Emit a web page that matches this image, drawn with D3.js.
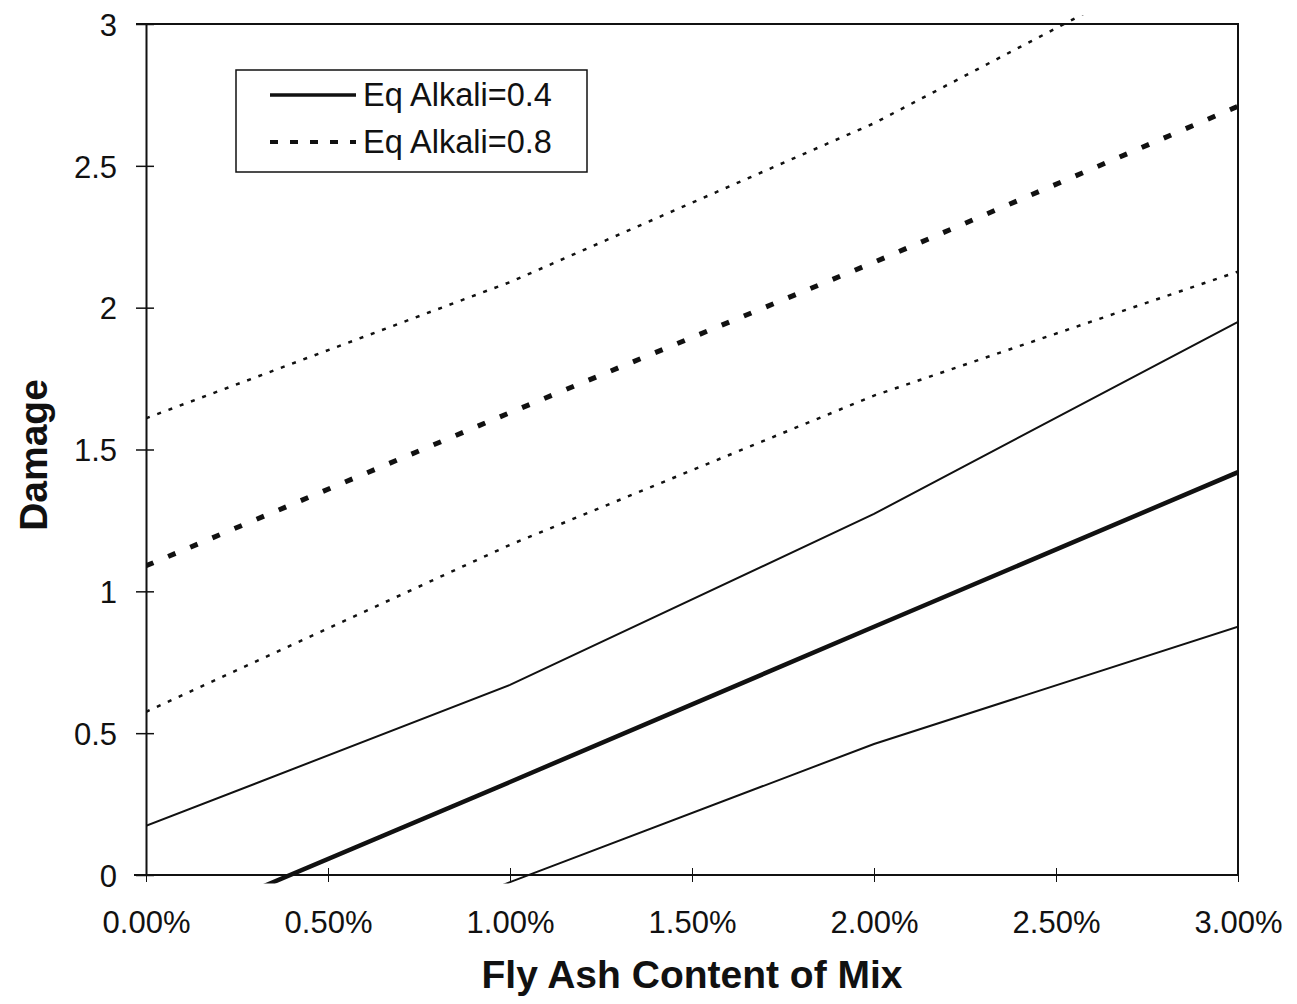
<!DOCTYPE html>
<html>
<head>
<meta charset="utf-8">
<script src="https://cdn.jsdelivr.net/npm/d3@7"></script>
<style>
  html, body { margin: 0; padding: 0; background: #fff; }
  svg { display: block; }
  text { font-family: "Liberation Sans", Arial, sans-serif; fill: #111; }
</style>
</head>
<body>
<svg id="chart" width="1297" height="1004"></svg>
<script>
// Fly ash content (%) at which each curve is evaluated
const flyAsh = [0, 1, 2, 3];

// Eq Alkali = 0.4 : mean curve and its bounds
const alkali04Mean  = [-0.215, 0.328, 0.875, 1.42];
const alkali04Upper = [0.173, 0.67, 1.273, 1.95];
const alkali04Lower = [-0.55, -0.025, 0.462, 0.875];

// Eq Alkali = 0.8 : mean curve and its bounds
const alkali08Mean  = [1.09, 1.63, 2.16, 2.71];
const alkali08Upper = [1.61, 2.09, 2.65, 3.32];
const alkali08Lower = [0.575, 1.164, 1.69, 2.127];

const xTicks = [0, 0.5, 1, 1.5, 2, 2.5, 3];
const yTicks = [0, 0.5, 1, 1.5, 2, 2.5, 3];
const legendLabels = ["Eq Alkali=0.4", "Eq Alkali=0.8"];

const svg = d3.select("#chart");
const pLeft = 146, pRight = 1238, pTop = 24, pBottom = 875;
const tickFont = 31, legendFont = 32.5, titleFont = 39;

const x = d3.scaleLinear().domain([0, 3]).range([pLeft, pRight]);
const y = d3.scaleLinear().domain([0, 3]).range([pBottom, pTop]);

// region the curves are drawn in (slightly past the frame)
svg.append("defs").append("clipPath").attr("id", "plotClip")
  .append("rect")
  .attr("x", x(0)).attr("y", y(3.03))
  .attr("width", x(3) - x(0)).attr("height", y(-0.03) - y(3.03));

// frame: top and right edges
svg.append("path")
  .attr("d", `M${pLeft - 10},${pTop}H${pRight}V${pBottom}`)
  .attr("fill", "none").attr("stroke", "#111").attr("stroke-width", 2);

// y axis
const yAxis = svg.append("g").attr("transform", `translate(${pLeft},0)`)
  .call(d3.axisLeft(y).tickValues(yTicks).tickSize(0).tickPadding(29)
    .tickFormat(d3.format("")));
yAxis.select(".domain").attr("stroke", "#111").attr("stroke-width", 2);
yAxis.selectAll(".tick text").attr("font-size", tickFont).attr("dy", "0.36em")
  .style("font-family", "'Liberation Sans', Arial, sans-serif").attr("fill", "#111");
yAxis.selectAll(".tick").append("line")
  .attr("x1", -10).attr("x2", 8).attr("stroke", "#111").attr("stroke-width", 1.5);

// x axis
const xAxis = svg.append("g").attr("transform", `translate(0,${pBottom})`)
  .call(d3.axisBottom(x).tickValues(xTicks).tickSize(0).tickPadding(36)
    .tickFormat(d => d3.format(".2f")(d) + "%"));
xAxis.select(".domain").attr("stroke", "#111").attr("stroke-width", 2)
  .attr("d", `M${pLeft - 12},0H${pRight}`);
xAxis.selectAll(".tick text").attr("font-size", tickFont).attr("dy", "0.71em")
  .style("font-family", "'Liberation Sans', Arial, sans-serif").attr("fill", "#111");
xAxis.selectAll(".tick").append("line")
  .attr("y1", -7).attr("y2", 7).attr("stroke", "#111").attr("stroke-width", 1);

// axis titles
svg.append("text").attr("x", 692).attr("y", 988)
  .attr("text-anchor", "middle").attr("font-size", titleFont).attr("font-weight", "bold")
  .text("Fly Ash Content of Mix");
svg.append("text")
  .attr("transform", `translate(47,455) rotate(-90)`)
  .attr("text-anchor", "middle").attr("font-size", titleFont).attr("font-weight", "bold")
  .text("Damage");

// curves
const line = d3.line().x(d => x(d[0])).y(d => y(d[1]));
const series = [
  { values: alkali04Upper, width: 2,   dash: null },
  { values: alkali04Lower, width: 2,   dash: null },
  { values: alkali04Mean,  width: 4.5, dash: null },
  { values: alkali08Upper, width: 2.5, dash: "4,8" },
  { values: alkali08Lower, width: 2.5, dash: "4,8" },
  { values: alkali08Mean,  width: 5,   dash: "8,16" }
];
const plot = svg.append("g").attr("clip-path", "url(#plotClip)");
plot.selectAll("path.curve").data(series).join("path")
  .attr("class", "curve")
  .attr("d", s => line(flyAsh.map((f, i) => [f, s.values[i]])))
  .attr("fill", "none").attr("stroke", "#111")
  .attr("stroke-width", s => s.width)
  .attr("stroke-dasharray", s => s.dash);

// legend
const legend = svg.append("g");
legend.append("rect").attr("x", 236).attr("y", 70).attr("width", 351).attr("height", 102)
  .attr("fill", "#fff").attr("stroke", "#111").attr("stroke-width", 1.5);
const legendStyles = [
  { width: 3.5, dash: null },
  { width: 4, dash: "8,12" }
];
legendLabels.forEach((lab, i) => {
  const cy = 95 + i * 47;
  legend.append("line").attr("x1", 270).attr("x2", 356).attr("y1", cy).attr("y2", cy)
    .attr("stroke", "#111").attr("stroke-width", legendStyles[i].width)
    .attr("stroke-dasharray", legendStyles[i].dash);
  legend.append("text").attr("x", 363).attr("y", cy + 11)
    .attr("font-size", legendFont).text(lab);
});
</script>
</body>
</html>
